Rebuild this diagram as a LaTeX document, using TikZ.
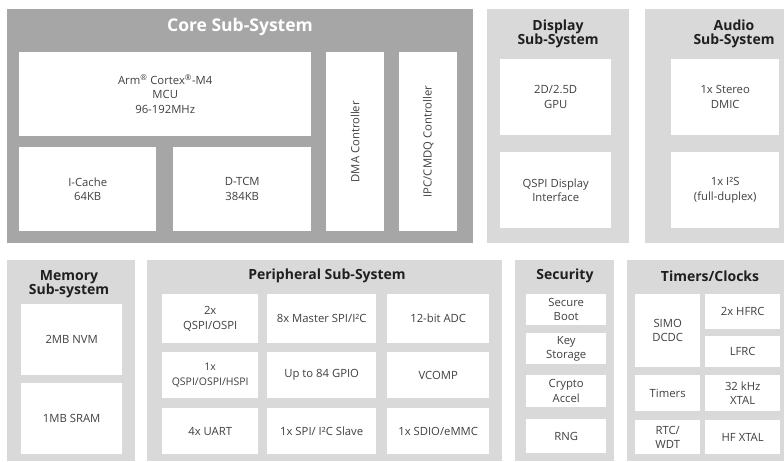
\documentclass[tikz,border=0pt]{standalone}
\usepackage{fontspec}
\setmainfont{Open Sans}

\definecolor{coregrey}{HTML}{A6A6A6}
\definecolor{panelgrey}{HTML}{D9D9D9}
\definecolor{txtgrey}{HTML}{404040}
\definecolor{headgrey}{HTML}{1F1F1F}

\tikzset{
  panel/.style={fill=panelgrey, anchor=north west, inner sep=0pt},
  blk/.style={fill=white, anchor=north west, inner sep=0pt, align=center,
    text=txtgrey, font=\fontsize{11.3}{14.5}\selectfont},
  vtext/.style={rotate=90, text=txtgrey, font=\fontsize{11.3}{14.5}\selectfont},
  head/.style={align=center, text=headgrey, font=\bfseries\fontsize{14}{14.5}\selectfont},
  sz/.style 2 args={minimum width=#1, minimum height=#2},
}

\begin{document}
\begin{tikzpicture}[x=1pt, y=-1pt]

        \useasboundingbox (0,0) rectangle (784,461);

        % sub-system panels
        \node[panel, fill=coregrey, sz={466}{234}] (core)  at (7,9)   {};
        \node[panel, sz={142}{234}] (disp)  at (487,9)   {};
        \node[panel, sz={139}{234}] (audio) at (645,9)   {};
        \node[panel, sz={128}{201}] (mem)   at (7,260)   {};
        \node[panel, sz={355}{201}] (peri)  at (147,260) {};
        \node[panel, sz={99}{201}]  (sec)   at (515,260) {};
        \node[panel, sz={157}{201}] (tim)   at (627,260) {};

        % panel titles
        \node[head, text=white, font=\bfseries\fontsize{17.5}{18}\selectfont] (coret) at (240,27) {Core Sub-System};
        \node[head] (dispt)  at (558,34)  {Display\\Sub-System};
        \node[head] (audiot) at (734,34)  {Audio\\Sub-System};
        \node[head] (memt)   at (69,284)  {Memory\\Sub-system};
        \node[head] (perit)  at (327,276) {Peripheral Sub-System};
        \node[head] (sect)   at (565,276) {Security};
        \node[head] (timt)   at (710,276) {Timers/Clocks};

        % core
        \node[blk, sz={292}{84}]  (mcu)    at (19,52)  {Arm\textsuperscript{\textregistered} Cortex\textsuperscript{\textregistered}-M4\\MCU\\96-192MHz};
        \node[blk, sz={137}{84}]  (icache) at (19,147) {I-Cache\\64KB};
        \node[blk, sz={138}{84}]  (dtcm)   at (173,147) {D-TCM\\384KB};
        \node[blk, sz={58}{179}]  (dma)    at (326,52) {};
        \node[blk, sz={58}{179}]  (ipc)    at (399,52) {};
        \node[vtext] (dmat) at (dma.center) {DMA Controller};
        \node[vtext] (ipct) at (ipc.center) {IPC/CMDQ Controller};

        % display and audio
        \node[blk, sz={111}{76}] (gpu)   at (500,59)  {2D/2.5D\\GPU};
        \node[blk, sz={111}{76}] (qspid) at (500,152) {QSPI Display\\Interface};
        \node[blk, sz={108}{76}] (dmic)  at (671,59)  {1x Stereo\\DMIC};
        \node[blk, sz={108}{76}] (i2s)   at (671,152) {1x I²S\\(full-duplex)};

        % memory
        \node[blk, sz={101}{71}] (nvm)  at (21,304) {2MB NVM};
        \node[blk, sz={101}{71}] (sram) at (21,383) {1MB SRAM};

        % peripherals
        \node[blk, sz={96}{49}]  (qspi2)  at (162,294) {2x\\QSPI/OSPI};
        \node[blk, sz={109}{49}] (mspi)   at (267,294) {8x Master SPI/I²C};
        \node[blk, sz={102}{49}] (adc)    at (387,294) {12-bit ADC};
        \node[blk, sz={96}{46}, font=\fontsize{10.5}{14.5}\selectfont] (qspi1) at (162,352) {1x\\QSPI/OSPI/HSPI};
        \node[blk, sz={109}{46}] (gpio)   at (267,352) {Up to 84 GPIO};
        \node[blk, sz={102}{46}] (vcomp)  at (387,352) {VCOMP};
        \node[blk, sz={96}{46}]  (uart)   at (162,408) {4x UART};
        \node[blk, sz={109}{46}] (sspi)   at (267,408) {1x SPI/ I²C Slave};
        \node[blk, sz={102}{46}] (sdio)   at (387,408) {1x SDIO/eMMC};

        % security
        \node[blk, sz={80}{31}] (boot)   at (526,294) {Secure\\Boot};
        \node[blk, sz={80}{31}] (key)    at (526,333) {Key\\Storage};
        \node[blk, sz={80}{32}] (crypto) at (526,375) {Crypto\\Accel};
        \node[blk, sz={80}{34}] (rng)    at (526,419) {RNG};

        % timers and clocks
        \node[blk, sz={65}{73}] (simo)   at (635,294) {SIMO\\DCDC};
        \node[blk, sz={75}{35}] (hfrc)   at (705,294) {2x HFRC};
        \node[blk, sz={75}{31}] (lfrc)   at (705,336) {LFRC};
        \node[blk, sz={65}{36}] (timers) at (635,375) {Timers};
        \node[blk, sz={75}{36}] (xtal32) at (705,375) {32 kHz\\XTAL};
        \node[blk, sz={65}{34}] (rtc)    at (635,420) {RTC/\\WDT};
        \node[blk, sz={75}{34}] (hfxtal) at (705,420) {HF XTAL};

\end{tikzpicture}
\end{document}
